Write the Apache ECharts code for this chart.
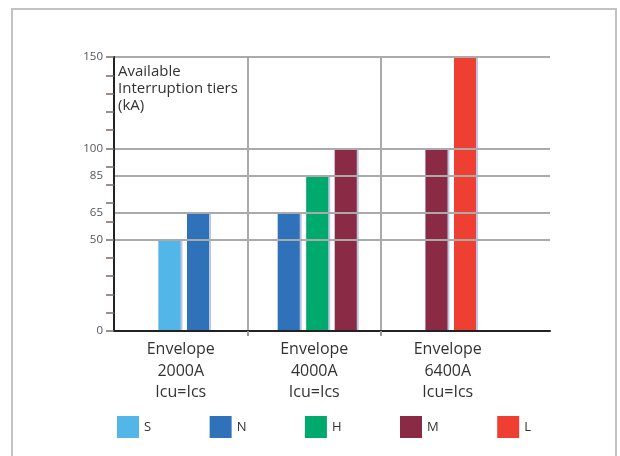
<!DOCTYPE html>
<html>
<head>
<meta charset="utf-8">
<script src="https://cdn.jsdelivr.net/npm/echarts@6/dist/echarts.min.js"></script>
<style>
html,body{margin:0;padding:0;background:#fff;}
#chart{width:620px;height:456px;}
</style>
</head>
<body>
<div id="chart"></div>
<script>
// ---- data ----
var categories = ['Envelope\n2000A\nIcu=Ics', 'Envelope\n4000A\nIcu=Ics', 'Envelope\n6400A\nIcu=Ics'];
var tiers = ['S', 'N', 'H', 'M', 'L'];
var valuesS = [50, null, null];
var valuesN = [65, 65, null];
var valuesH = [null, 85, null];
var valuesM = [null, 100, 100];
var valuesL = [null, null, 150];
var yTickLabels = [0, 50, 65, 85, 100, 150];
var yGridValues = [50, 65, 85, 100, 150];
var tierColors = ['#52b6e8', '#2f72ba', '#00a96e', '#8b2a45', '#ef3e32'];

var tierValues = [valuesS, valuesN, valuesH, valuesM, valuesL];

var BAR_W = 22, PITCH = 28.5, SHIFT = 3;

function makeRender(tierIdx) {
  return function (params, api) {
    var c = api.value(0);
    var v = api.value(1);
    var present = [];
    for (var t = 0; t < tiers.length; t++) {
      if (tierValues[t][c] != null) present.push(t);
    }
    var pos = present.indexOf(tierIdx);
    var n = present.length;
    var center = api.coord([c + 0.5, 0])[0];
    var x0 = center + (pos - (n - 1) / 2) * PITCH + SHIFT - BAR_W / 2;
    var yTop = api.coord([c + 0.5, v])[1];
    var yBot = api.coord([c + 0.5, 0])[1];
    return {
      type: 'group',
      children: [
        { type: 'rect', shape: { x: x0, y: yTop, width: BAR_W + 2, height: yBot - yTop },
          style: { fill: '#bcc6e2' } },
        { type: 'rect', shape: { x: x0, y: yTop, width: BAR_W, height: yBot - yTop },
          style: { fill: tierColors[tierIdx] } }
      ]
    };
  };
}

var series = tiers.map(function (name, t) {
  var data = [];
  tierValues[t].forEach(function (v, c) { if (v != null) data.push([c, v]); });
  return {
    name: name,
    type: 'custom',
    z: -1,
    itemStyle: { color: tierColors[t] },
    encode: { x: 0, y: 1 },
    renderItem: makeRender(t),
    data: data
  };
});

var chart = echarts.init(document.getElementById('chart'), null, { renderer: 'canvas' });
chart.setOption({
  animation: false,
  textStyle: { fontFamily: 'Open Sans' },
  grid: { left: 114, right: 70, top: 57, bottom: 125, containLabel: false },
  graphic: [
    { type: 'rect', z: -10, shape: { x: 12, y: 9, width: 604, height: 470 },
      style: { fill: 'none', stroke: '#c2c2c2', lineWidth: 2 } },
    { type: 'text', left: 118, top: 63, z: 10,
      style: { text: 'Available\nInterruption tiers\n(kA)', fill: '#333', fontSize: 15,
               lineHeight: 17, fontFamily: 'Open Sans' } }
  ],
  legend: {
    left: 117, top: 416, padding: 0,
    itemWidth: 22, itemHeight: 22, itemGap: 58.5,
    icon: 'rect',
    textStyle: { color: '#333', fontSize: 13 },
    data: tiers,
    selectedMode: false
  },
  xAxis: {
    type: 'value',
    min: 0, max: 3.266,
    axisLine: { show: true, lineStyle: { color: '#222', width: 2 } },
    axisTick: { show: true, customValues: [1, 2], length: 5, lineStyle: { color: '#999', width: 2 } },
    splitLine: { show: true, lineStyle: { color: '#aaa', width: 2 } },
    axisLabel: {
      customValues: [0.5, 1.5, 2.5],
      formatter: function (v) { return categories[Math.round(v - 0.5)]; },
      color: '#333', fontSize: 16, lineHeight: 21.5, margin: 8
    }
  },
  yAxis: [{
    type: 'value',
    min: 0, max: 150, interval: 10,
    axisLine: { show: true, lineStyle: { color: '#222', width: 2 } },
    axisTick: { show: true, length: 8, lineStyle: { color: '#7d6b62', width: 1.5 } },
    axisLabel: { customValues: yTickLabels, color: '#555', fontSize: 11.5, margin: 11 },
    splitLine: { show: false }
  }, {
    type: 'value',
    min: 0, max: 150,
    position: 'left',
    axisLine: { show: false },
    axisTick: { show: false, customValues: yGridValues },
    axisLabel: { show: false },
    splitLine: { show: true, lineStyle: { color: '#aaa', width: 2 } }
  }],
  series: series
});
</script>
</body>
</html>
